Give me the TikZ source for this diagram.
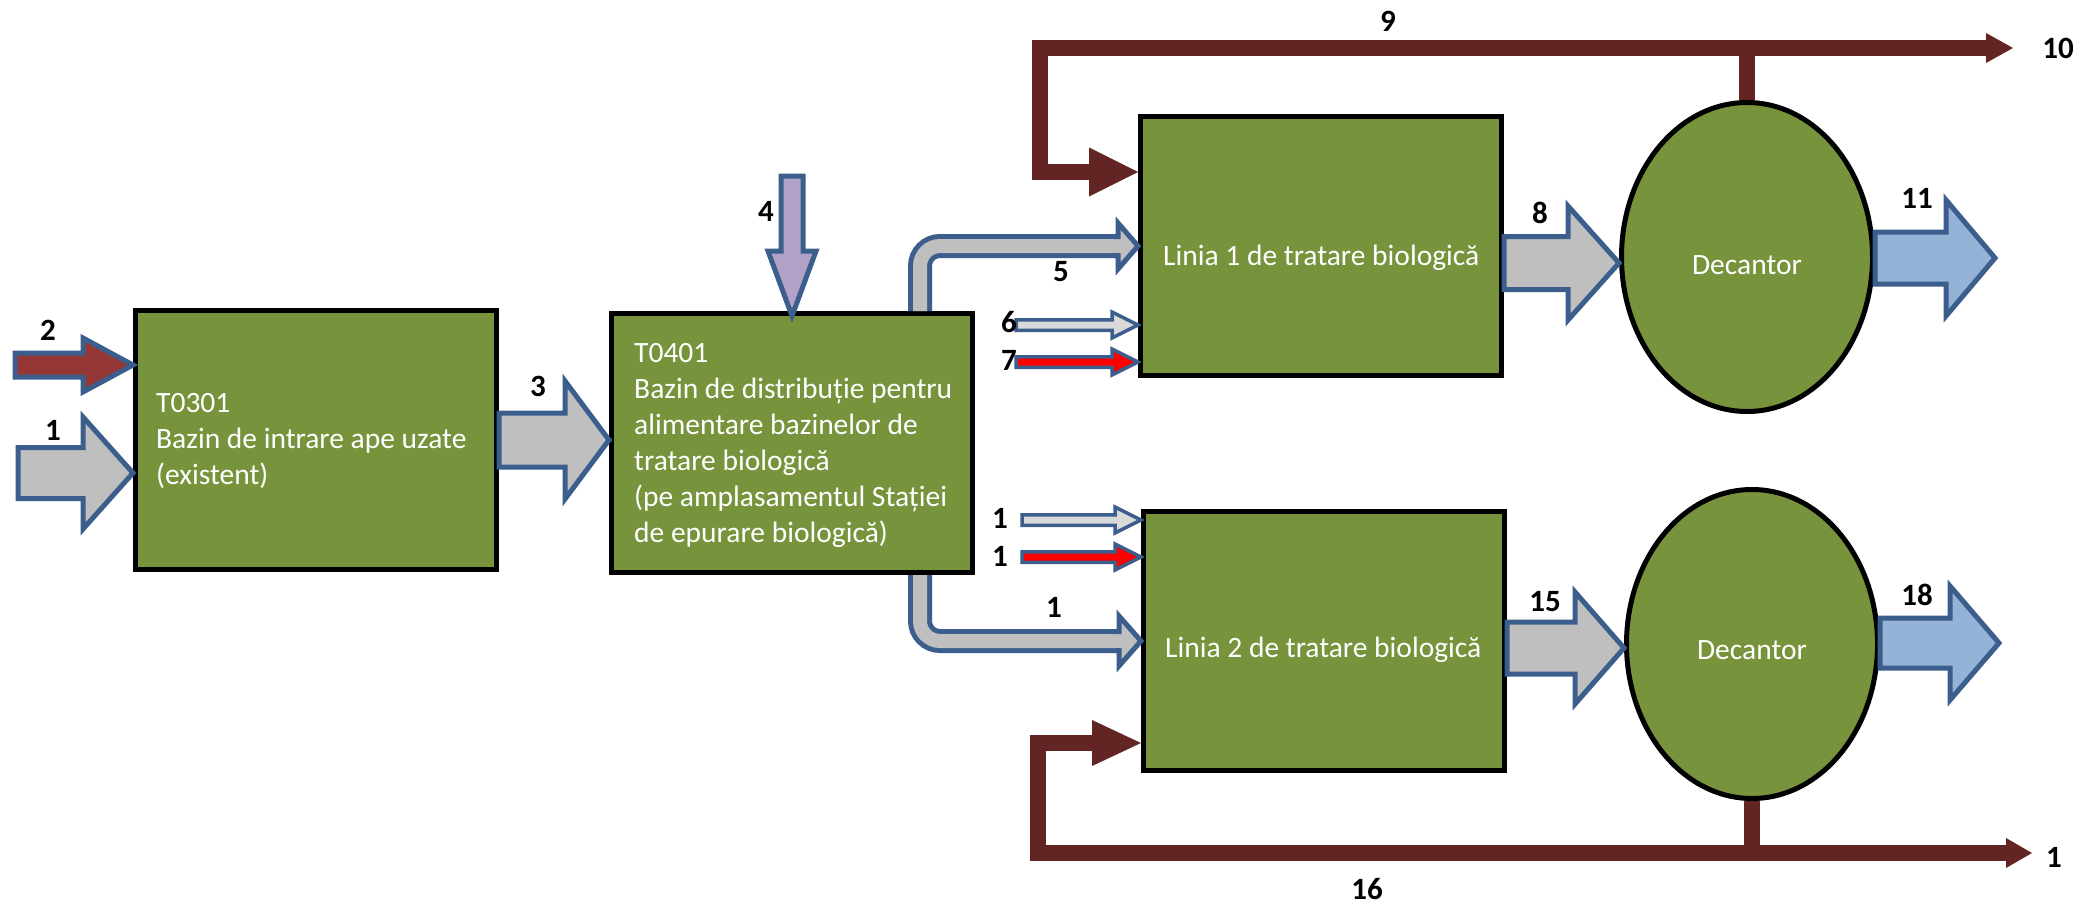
\documentclass[tikz,border=0pt]{standalone}
\usepackage{fontspec}
\setmainfont{Carlito}
\usetikzlibrary{calc,shapes.geometric}

\definecolor{tankgreen}{HTML}{77933C}
\definecolor{flowblue}{HTML}{3B5E8C}
\definecolor{watergray}{HTML}{BFBFBF}
\definecolor{paleflow}{HTML}{D9D9D9}
\definecolor{sludgered}{HTML}{953735}
\definecolor{recyclebrown}{HTML}{632523}
\definecolor{reagentviolet}{HTML}{B3A2C7}
\definecolor{clearblue}{HTML}{95B3D7}
\definecolor{airred}{HTML}{FF0000}

% horizontal block arrow: style, from, tip, half shaft, half head, head length
\newcommand\harrow[6]{%
  \filldraw[#1] ($(#2 |- #3)+(0,#4)$) -- ($(#3)+(-#6,#4)$) -- ($(#3)+(-#6,#5)$) -- (#3)
    -- ($(#3)+(-#6,-#5)$) -- ($(#3)+(-#6,-#4)$) -- ($(#2 |- #3)+(0,-#4)$) -- cycle;}
% downward block arrow: style, from, tip, half shaft, half head, head length
\newcommand\varrow[6]{%
  \filldraw[#1] ($(#2 -| #3)+(#4,0)$) -- ($(#3)+(#4,-#6)$) -- ($(#3)+(#5,-#6)$) -- (#3)
    -- ($(#3)+(-#5,-#6)$) -- ($(#3)+(-#4,-#6)$) -- ($(#2 -| #3)+(-#4,0)$) -- cycle;}
% outlined head closing a bent pipe: fill, tip, half shaft, half head, head length
\newcommand\pipehead[5]{%
  \fill[#1] ($(#2)+(-#5,#4)$) -- (#2) -- ($(#2)+(-#5,-#4)$) -- cycle;
  \draw[outl] ($(#2)+(-#5-4,#3)$) -- ($(#2)+(-#5,#3)$) -- ($(#2)+(-#5,#4)$) -- (#2)
    -- ($(#2)+(-#5,-#4)$) -- ($(#2)+(-#5,-#3)$) -- ($(#2)+(-#5-4,-#3)$);}

\begin{document}
\begin{tikzpicture}[x=1pt,y=-1pt,
  box/.style={draw=black, fill=tankgreen, line width=5pt, minimum width=361pt,
    minimum height=259pt, inner sep=0pt},
  tank/.style={ellipse, draw=black, fill=tankgreen, line width=5pt, inner sep=0pt,
    minimum width=251pt, minimum height=309pt},
  boxtext/.style={text=white, align=left, inner sep=0pt, font=\fontsize{29.5}{36}\selectfont},
  num/.style={inner sep=0pt, font=\fontsize{31}{36}\selectfont\bfseries},
  outl/.style={draw=flowblue, line width=5pt, line join=miter},
  thinoutl/.style={draw=flowblue, line width=3.5pt, line join=miter},
  recycle/.style={draw=recyclebrown, line width=16pt, line join=miter}]

\fill[white] (0,0) rectangle (2095,907);
\useasboundingbox (0,0) rectangle (2095,907);

% basins and settlers
\node[box] (b1) at (316,440) {};
\node[box] (b2) at (792,443) {};
\node[box] (b3) at (1321,246) {};
\node[box] (b4) at (1324,641) {};
\node[tank] (dec1) at (1747,257) {};
\node[tank] (dec2) at (1752,644) {};

\node[boxtext, anchor=west] (b1t) at ($(b1.west)+(23,1)$)
  {T0301\\Bazin de intrare ape uzate\\(existent)};
\node[boxtext, anchor=west] (b2t) at ($(b2.west)+(25,2)$)
  {T0401\\Bazin de distribuție pentru\\alimentare bazinelor de\\tratare biologică\\(pe amplasamentul Stației\\de epurare biologică)};
\node[boxtext, anchor=west] (b3t) at ($(b3.west)+(25,12)$) {Linia 1 de tratare biologică};
\node[boxtext, anchor=west] (b4t) at ($(b4.west)+(24,9)$) {Linia 2 de tratare biologică};
\node[boxtext] (dec1t) at ($(dec1)+(0,8)$) {Decantor};
\node[boxtext] (dec2t) at ($(dec2)+(0,6)$) {Decantor};

% inflows to T0301
\coordinate (in1) at (18,473);
\coordinate (in2) at (15,365);
\coordinate (t1) at (b1.west |- in1);
\coordinate (t2) at (b1.west |- in2);
\harrow{fill=watergray, outl}{in1}{t1}{25.5}{56}{50}
\harrow{fill=sludgered, outl}{in2}{t2}{12}{27}{50}

% T0301 -> T0401
\coordinate (t3) at (b2.west |- b1.east);
\harrow{fill=watergray, outl}{b1.east}{t3}{27}{59}{44}

% dosing into T0401
\coordinate (in4) at (792,176);
\coordinate (t4) at ($(b2.north)+(0,5)$);
\varrow{fill=reagentviolet, outl}{in4}{t4}{11}{24}{65}

% distribution pipe to line 1
\coordinate (p5) at ($(b2.north east)+(-55,0)$);
\draw[flowblue, line width=24pt, rounded corners=20pt] (p5) |- ($(b3.west)+(-20,0)$);
\draw[watergray, line width=14pt, rounded corners=20pt] (p5) |- ($(b3.west)+(-20,0)$);
\pipehead{watergray}{b3.west}{9.5}{23}{20}

% distribution pipe to line 2
\coordinate (p14) at ($(b2.south east)+(-55,0)$);
\draw[flowblue, line width=24pt, rounded corners=20pt] (p14) |- ($(b4.west)+(-22,0)$);
\draw[watergray, line width=14pt, rounded corners=20pt] (p14) |- ($(b4.west)+(-22,0)$);
\pipehead{watergray}{b4.west}{9.5}{25}{22}

% small feeds into the biological lines
\coordinate (in6) at (1016,325);
\coordinate (in7) at (1016,362);
\coordinate (in12) at (1022,520);
\coordinate (in13) at (1022,557);
\coordinate (t6) at (b3.west |- in6);
\coordinate (t7) at (b3.west |- in7);
\coordinate (t12) at (b4.west |- in12);
\coordinate (t13) at (b4.west |- in13);
\harrow{fill=paleflow, thinoutl}{in6}{t6}{5.25}{13}{26}
\harrow{fill=airred, thinoutl}{in7}{t7}{5.25}{13}{26}
\harrow{fill=paleflow, thinoutl}{in12}{t12}{5.25}{13}{26}
\harrow{fill=airred, thinoutl}{in13}{t13}{5.25}{13}{26}

% lines -> settlers -> effluent
\coordinate (t8) at ($(dec1.west)+(0,6)$);
\harrow{fill=watergray, outl}{b3.east}{t8}{26.5}{57}{51}
\coordinate (o11) at (1995,258);
\harrow{fill=clearblue, outl}{dec1.east}{o11}{26}{58}{49}
\coordinate (t15) at ($(dec2.west)+(0,4)$);
\harrow{fill=watergray, outl}{b4.east}{t15}{26}{56}{49}
\coordinate (o18) at (1999,643);
\harrow{fill=clearblue, outl}{dec2.east}{o18}{25}{57}{49}

% sludge recirculation, line 1
\coordinate (c9) at (1040,48);
\coordinate (o10) at (2013,48);
\coordinate (t9) at ($(b3.north west)+(0,58)$);
\draw[recycle] ($(o10)+(-27,0)$) -- (c9) |- ($(t9)+(-49,0)$);
\fill[recyclebrown] ($(t9)+(-49,24.5)$) -- (t9) -- ($(t9)+(-49,-24.5)$) -- cycle;
\fill[recyclebrown] ($(o10)+(-27,15)$) -- (o10) -- ($(o10)+(-27,-15)$) -- cycle;
\draw[recycle] (dec1.north) -- (dec1.north |- c9);

% sludge recirculation, line 2
\coordinate (c16) at (1038,853);
\coordinate (o17) at (2032,853);
\coordinate (t16) at ($(b4.south west)+(0,-30)$);
\draw[recycle] ($(o17)+(-26,0)$) -- (c16) |- ($(t16)+(-49,0)$);
\fill[recyclebrown] ($(t16)+(-49,23)$) -- (t16) -- ($(t16)+(-49,-23)$) -- cycle;
\fill[recyclebrown] ($(o17)+(-26,15)$) -- (o17) -- ($(o17)+(-26,-15)$) -- cycle;
\draw[recycle] (dec2.south) -- (dec2.south |- c16);

% stream numbers
\node[num] (n2) at (48,330) {2};
\node[num] (n1) at (53,430) {1};
\node[num] (n3) at (538,386) {3};
\node[num] (n4) at (766,211) {4};
\node[num] (n5) at (1061,272) {5};
\node[num] (n6) at (1009,322) {6};
\node[num] (n7) at (1009,360) {7};
\node[num] (n12) at (1000,518) {1};
\node[num] (n13) at (1000,556) {1};
\node[num] (n14) at (1054,607) {1};
\node[num] (n8) at (1540,213) {8};
\node[num] (n9) at (1388,21) {9};
\node[num] (n10) at (2058,48) {10};
\node[num] (n11) at (1917,198) {11};
\node[num] (n15) at (1545,602) {15};
\node[num] (n18) at (1917,595) {18};
\node[num] (n17) at (2054,857) {1};
\node[num] (n16) at (1367,889) {16};
\end{tikzpicture}
\end{document}
